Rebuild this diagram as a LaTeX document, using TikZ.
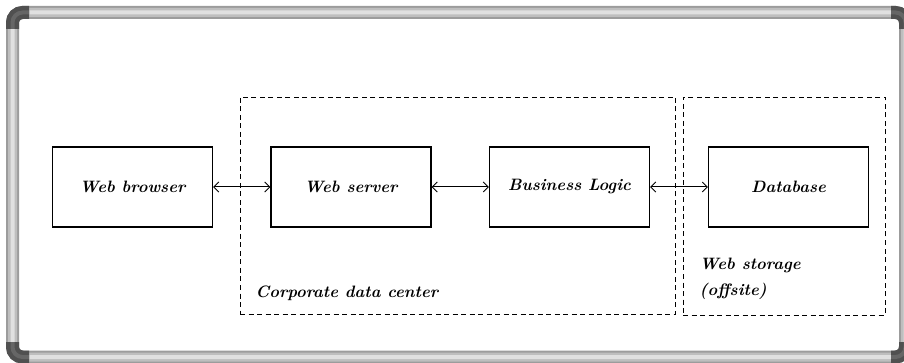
\documentclass[tikz,border=0pt]{standalone}
\usepackage{amsmath}
\usetikzlibrary{arrows.meta}

\definecolor{tubeedge}{HTML}{9C9C9C}
\definecolor{tubemid}{HTML}{BEBEBE}
\definecolor{tubelight}{HTML}{E0E0E0}
\definecolor{cornerdark}{HTML}{505050}
\definecolor{cornermid}{HTML}{666666}

\begin{document}
\begin{tikzpicture}[x=1pt,y=-1pt,
    box/.style={draw,line width=1.1pt,minimum width=160pt,minimum height=80pt,inner sep=0pt},
    zone/.style={draw,line width=0.8pt,dash pattern=on 5pt off 3.5pt,inner sep=0pt},
    link/.style={{Straight Barb[length=5pt,width=10pt]}-{Straight Barb[length=5pt,width=10pt]},line width=1pt},
    tube/.style={line width=#1,rounded corners=10pt}]
        \fontsize{16.5}{26}\selectfont\bfseries\itshape
        \useasboundingbox (0,0) rectangle (904,363);

        % whiteboard frame
        \draw[tube=13pt,tubeedge] (12.5,12.5) rectangle (905.5,357);
        \draw[tube=9pt,tubemid] (12.5,12.5) rectangle (905.5,357);
        \draw[tube=4pt,tubelight] (12.5,12.5) rectangle (905.5,357);
        \foreach \c in {{(12.5,29) -- (12.5,12.5) -- (29,12.5)},
                        {(891,12.5) -- (905.5,12.5) -- (905.5,29)},
                        {(12.5,342) -- (12.5,357) -- (29,357)},
                        {(891,357) -- (905.5,357) -- (905.5,342)}}{
          \draw[tube=13pt,cornerdark] \c;
          \draw[tube=4pt,cornermid] \c;
        }

        \node[zone,minimum width=435pt,minimum height=217pt] (C) at (457.5,205.5) {};
        \node[zone,minimum width=202pt,minimum height=218pt] (O) at (784,206) {};
        \node[anchor=west] (CL) at (250,293) {Corporate data center};
        \node[anchor=west,align=left] (OL) at (694,279) {Web storage\\(offsite)};

        \node[box] (W) at (132.5,187) {Web browser};
        \node[box] (S) at (351,187) {Web server};
        \node[box] (L) at (569.5,187) {Business Logic};
        \node[box] (D) at (788.5,187) {Database};

        \draw[link] (W) edge (S);
        \draw[link] (S) edge (L);
        \draw[link] (L) edge (D);
      \end{tikzpicture}
\end{document}
